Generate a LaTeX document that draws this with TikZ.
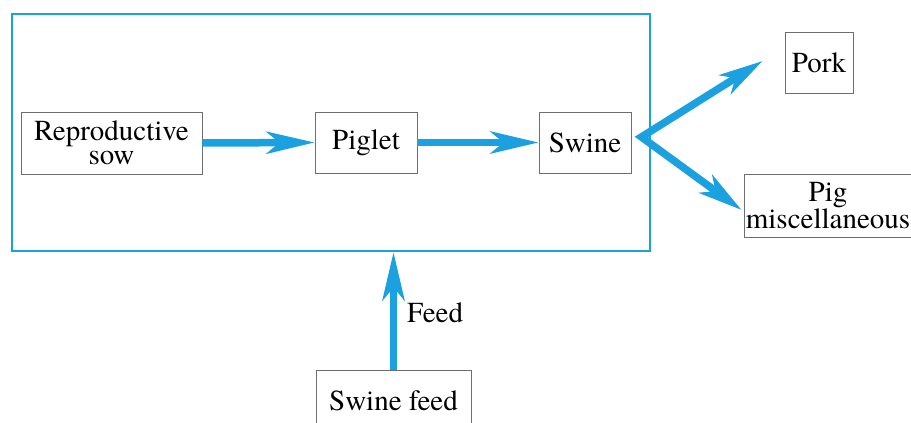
\documentclass[tikz,border=0pt]{standalone}
\usepackage{fontspec}
\setmainfont{texgyretermes}[Extension=.otf,UprightFont=*-regular,BoldFont=*-bold,ItalicFont=*-italic,BoldItalicFont=*-bolditalic]
\usetikzlibrary{arrows.meta,calc}
\definecolor{flowblue}{RGB}{27,160,224}
\definecolor{boxgray}{RGB}{110,110,110}
\begin{document}
\begin{tikzpicture}[x=1pt,y=-1pt,
  item/.style={draw=boxgray,line width=0.8pt,align=center,inner sep=0pt,
    font=\rmfamily\fontsize{29}{24}\selectfont},
  flow/.style={draw=flowblue,line width=7.5pt,
    -{Stealth[length=48pt,width=22pt,inset=13pt]}},
  flowtwo/.style={draw=flowblue,line width=7.5pt,line join=miter,
    {Stealth[length=44pt,width=22pt,inset=12pt]}-{Stealth[length=44pt,width=22pt,inset=12pt]}},
  label/.style={font=\rmfamily\fontsize{29}{24}\selectfont,inner sep=0pt},
]
\useasboundingbox (0,0) rectangle (911,423);
\clip (0,0) rectangle (911,423);

% farm enclosure
\node[draw=flowblue,line width=2.5pt,minimum width=638pt,minimum height=237pt,inner sep=0pt]
  (farm) at (331,132.5) {};

% boxes
\node[item,minimum width=181pt,minimum height=62pt] (sow) at (111.5,143) {Reproductive\\sow};
\node[item,minimum width=102pt,minimum height=61pt] (piglet) at (366,142.5) {Piglet};
\node[item,minimum width=92pt,minimum height=61pt] (swine) at (585,142.5) {Swine};
\node[item,minimum width=68pt,minimum height=61pt] (pork) at (819,62.5) {Pork};
\node[item,minimum width=168pt,minimum height=63pt] (misc) at (828,205.5) {Pig\\miscellaneous};
\node[item,minimum width=155pt,minimum height=61pt] (feed) at (393.5,400.5) {Swine feed};

% flows
\draw[flow] (sow.east) -- (piglet.west);
\draw[flow] (piglet.east) -- (swine.west);

\coordinate (split) at ($(swine.east)+(10,-5.5)$);
\coordinate (porktip) at ($(pork.west)+(-22,-1.5)$);
\coordinate (misctip) at ($(misc.west)+(-2,4.5)$);
\draw[flowtwo] (porktip) -- (split) -- (misctip);

\draw[flow] (feed.north) -- (feed.north |- farm.south);
\node[label,anchor=base west] (feedlabel) at (407,322) {Feed};
\end{tikzpicture}
\end{document}
